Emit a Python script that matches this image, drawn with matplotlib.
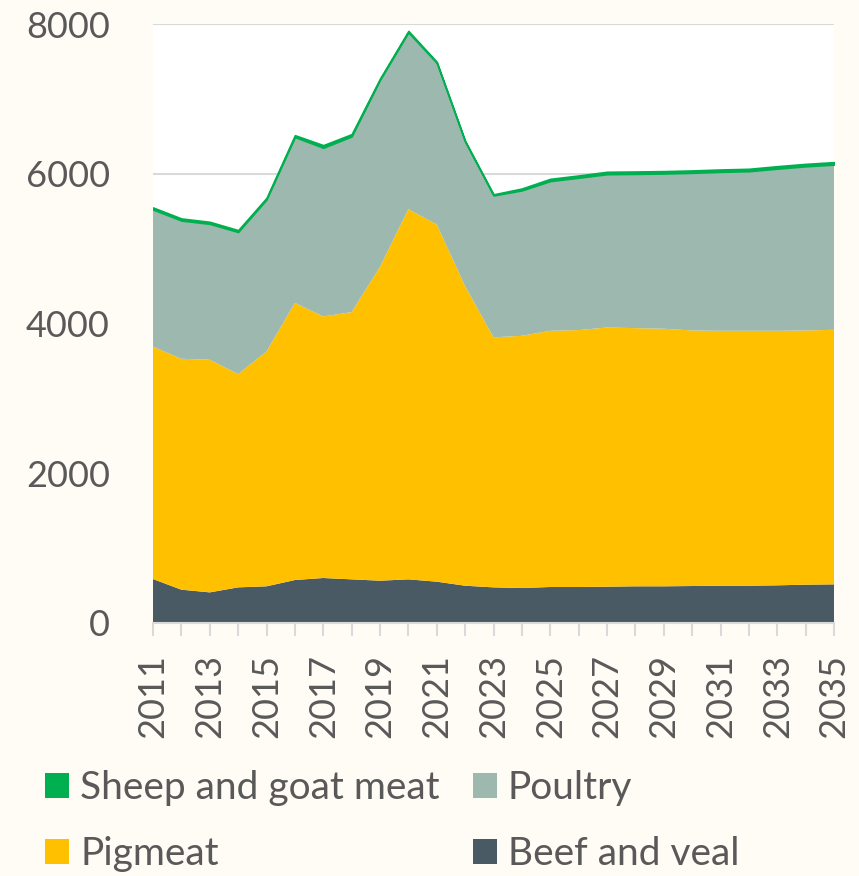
import matplotlib
matplotlib.use("Agg")
import matplotlib.pyplot as plt
from matplotlib.patches import Patch

years = list(range(2011, 2036))
beef = [587, 445, 409, 476, 490, 574, 601, 583, 565, 583, 552, 498, 476, 467, 481,
        481, 485, 490, 490, 494, 498, 498, 503, 512, 516]
pigmeat = [3103, 3084, 3107, 2848, 3137, 3701, 3493, 3569, 4192, 4944, 4771, 4001, 3339,
           3369, 3422, 3431, 3462, 3448, 3440, 3413, 3405, 3405, 3400, 3395, 3400]
poultry = [1832, 1846, 1815, 1898, 2029, 2215, 2253, 2347, 2497, 2361, 2157, 1928, 1895,
           1942, 1999, 2035, 2047, 2060, 2073, 2105, 2122, 2131, 2165, 2192, 2206]
sheep = [28, 28, 27, 25, 22, 25, 35, 30, 18, 20, 15, 12, 15, 25, 30, 30, 32, 32, 32, 32,
         32, 32, 33, 33, 33]
series_labels = ["Beef and veal", "Pigmeat", "Poultry", "Sheep and goat meat"]
y_ticks = [0, 2000, 4000, 6000, 8000]

colors = ["#4A5A65", "#FFC000", "#9DB8AE", "#00B050"]
bg = "#FFFBF5"
txt = "#595959"
grid = "#D9D9D9"

plt.rcParams['font.family'] = ['Lato', 'DejaVu Sans']

fig = plt.figure(figsize=(8.59, 8.76), dpi=100, facecolor=bg)
ax = fig.add_axes([153/859, 1-623/876, (834-153)/859, (623-24)/876])
ax.set_facecolor("white")

polys = ax.stackplot(years, beef, pigmeat, poultry, sheep, colors=colors, linewidth=0)
polys[3].set_edgecolor(colors[3])
polys[3].set_linewidth(1.2)

ax.set_xlim(2011, 2035)
ax.set_ylim(0, 8000)
ax.set_yticks(y_ticks)
ax.set_yticklabels([str(v) for v in y_ticks])
ax.set_xticks(years)
ax.set_xticklabels([str(y) if (y - 2011) % 2 == 0 else "" for y in years], rotation=90)
ax.yaxis.grid(True, color=grid, linewidth=1.5)
ax.set_axisbelow(True)
for s in ["left", "right", "top"]:
    ax.spines[s].set_visible(False)
ax.spines["bottom"].set_color(grid)
ax.spines["bottom"].set_linewidth(1.5)
ax.spines["bottom"].set_zorder(5)
ax.tick_params(axis="y", length=0, pad=31, labelsize=26, labelcolor=txt)
ax.tick_params(axis="x", length=9.5, width=1.5, color=grid, pad=13, labelsize=26, labelcolor=txt)

handles = [Patch(facecolor=colors[3]), Patch(facecolor=colors[1]),
           Patch(facecolor=colors[2]), Patch(facecolor=colors[0])]
labels = [series_labels[3], series_labels[1], series_labels[2], series_labels[0]]
leg = fig.legend(handles, labels, ncol=2, loc="upper left", bbox_to_anchor=(45/859, 1-770/876),
                 frameon=False, fontsize=28, labelcolor=txt, handlelength=0.62, handleheight=0.62,
                 handletextpad=0.28, columnspacing=0.85, labelspacing=0.78, borderpad=0, borderaxespad=0)

fig.savefig("out.png", dpi=100, facecolor=bg)
